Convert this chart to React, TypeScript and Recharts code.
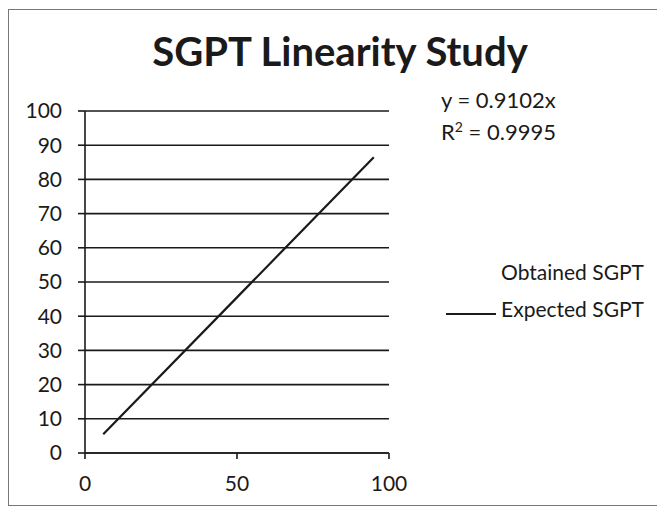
import React from "react";
import { LineChart, Line, XAxis, YAxis, CartesianGrid } from "recharts";

// expected SGPT line
const expectedX = [6, 50, 95];
const expectedY = [5.5, 45.5, 86.5];

const xTicks = [0, 50, 100];
const yTicks = [0, 10, 20, 30, 40, 50, 60, 70, 80, 90, 100];

const seriesNames = ["Obtained SGPT", "Expected SGPT"];
const equation = "y = 0.9102x";
const rSquared = "0.9995";

const data = expectedX.map((x, i) => ({ x, expected: expectedY[i] }));

const FONT = "Lato, 'Open Sans', sans-serif";
const INK = "#1a1a1a";

const textStyle = (left: number, top: number, size: number): React.CSSProperties => ({
  position: "absolute",
  left,
  top,
  fontSize: size,
  lineHeight: 1,
  color: INK,
  whiteSpace: "nowrap",
});

export default function App() {
  return (
    <div
      style={{
        position: "fixed",
        left: 0,
        top: 0,
        width: 657,
        height: 508,
        background: "#fff",
        fontFamily: FONT,
        overflow: "hidden",
      }}
    >
      <div
        style={{
          position: "absolute",
          left: 8,
          top: 9,
          width: 660,
          height: 497,
          border: "1.5px solid #777",
          boxSizing: "border-box",
        }}
      />
      <LineChart
        width={657}
        height={508}
        data={data}
        margin={{ top: 111, right: 268, bottom: 0, left: 0 }}
        style={{ position: "absolute", left: 0, top: 0 }}
      >
        <CartesianGrid vertical={false} stroke={INK} strokeWidth={1.6} />
        <XAxis
          dataKey="x"
          type="number"
          domain={[0, 100]}
          ticks={xTicks}
          height={55}
          stroke={INK}
          strokeWidth={1.6}
          tickSize={6}
          tickMargin={17}
          tick={{ fill: INK, fontSize: 21, fontFamily: FONT }}
        />
        <YAxis
          type="number"
          domain={[0, 100]}
          ticks={yTicks}
          width={85}
          stroke={INK}
          strokeWidth={1.6}
          tickSize={7}
          tickMargin={16}
          tick={{ fill: INK, fontSize: 21, fontFamily: FONT }}
        />
        <Line
          dataKey="expected"
          name={seriesNames[1]}
          stroke={INK}
          strokeWidth={2.2}
          dot={false}
          isAnimationActive={false}
        />
      </LineChart>

      <div style={{ ...textStyle(0, 31, 40), width: 680, textAlign: "center", fontWeight: 700 }}>
        SGPT Linearity Study
      </div>

      <div style={textStyle(441, 89, 22)}>{equation}</div>
      <div style={textStyle(441, 121, 22)}>
        R<sup style={{ fontSize: 14, verticalAlign: "8px", lineHeight: 0 }}>2</sup> = {rSquared}
      </div>

      <div style={{ ...textStyle(0, 261, 21), width: 644, textAlign: "right" }}>{seriesNames[0]}</div>
      <div style={{ position: "absolute", left: 446, top: 313, width: 50, height: 2, background: INK }} />
      <div style={{ ...textStyle(0, 298, 21), width: 644, textAlign: "right" }}>{seriesNames[1]}</div>
    </div>
  );
}
